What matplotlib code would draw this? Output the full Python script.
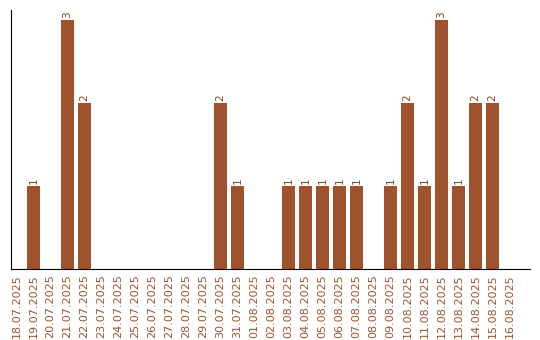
import matplotlib
matplotlib.use("Agg")
import matplotlib.pyplot as plt

dates = ["18.07.2025","19.07.2025","20.07.2025","21.07.2025","22.07.2025","23.07.2025",
         "24.07.2025","25.07.2025","26.07.2025","27.07.2025","28.07.2025","29.07.2025",
         "30.07.2025","31.07.2025","01.08.2025","02.08.2025","03.08.2025","04.08.2025",
         "05.08.2025","06.08.2025","07.08.2025","08.08.2025","09.08.2025","10.08.2025",
         "11.08.2025","12.08.2025","13.08.2025","14.08.2025","15.08.2025","16.08.2025"]
values = [0,1,0,3,2,0,0,0,0,0,0,0,2,1,0,0,1,1,1,1,1,0,1,2,1,3,1,2,2,0]

color = "#A0522D"
fig = plt.figure(figsize=(5.4, 3.4), dpi=100)
ax = fig.add_axes([11/540, 1-269/340, (530-11)/540, (269-10)/340])
x = list(range(len(dates)))
ax.bar(x, values, width=0.8, color=color)
for xi, v in zip(x, values):
    if v > 0:
        ax.text(xi, v + 0.02, str(v), rotation=90, ha="center", va="bottom",
                fontsize=7.5, color="#8B4513")
ax.set_xlim(-0.32, 30.2)
ax.set_ylim(0, 3.12)
ax.set_xticks(x)
ax.set_xticklabels(dates, rotation=90, fontsize=8, color=color)
ax.tick_params(axis="x", length=0, pad=4)
ax.set_yticks([])
for s in ["top", "right"]:
    ax.spines[s].set_visible(False)
ax.spines["left"].set_color("black")
ax.spines["bottom"].set_color("black")
fig.savefig("out.png", dpi=100)
